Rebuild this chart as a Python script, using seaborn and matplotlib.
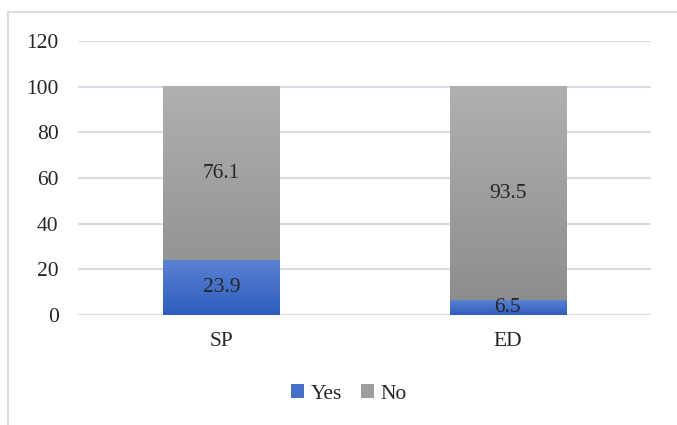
import numpy as np
import pandas as pd
import matplotlib
matplotlib.use('Agg')
import matplotlib.pyplot as plt
import seaborn as sns
from matplotlib.colors import LinearSegmentedColormap
from matplotlib.patches import Patch
from matplotlib.lines import Line2D

# data
groups = ['SP', 'ED']
yes_vals = [23.9, 6.5]
no_vals = [76.1, 93.5]
yticks = [0, 20, 40, 60, 80, 100, 120]

df = pd.DataFrame({'group': groups, 'Yes': yes_vals, 'No': no_vals})
df['total'] = df['Yes'] + df['No']

sns.set_style('white')
plt.rcParams['font.family'] = ['Liberation Serif', 'DejaVu Serif']

FS = 15.5
blue_top, blue_bot = '#5a82d3', '#2d5dbd'
gray_top, gray_bot = '#b0b0b0', '#8b8b8b'
grid_col = '#d9dde3'

fig = plt.figure(figsize=(6.77, 4.25), dpi=100)
ax = fig.add_axes([78 / 677, 1 - 315 / 425, (651 - 78) / 677, (315 - 41) / 425])

# stacked: total first (gray), then yes on top (blue)
sns.barplot(data=df, x='group', y='total', color=gray_bot, width=0.405, ax=ax)
sns.barplot(data=df, x='group', y='Yes', color=blue_bot, width=0.405, ax=ax)


def fill_gradient(patch, top, bottom, z):
    x0, y0 = patch.get_x(), patch.get_y()
    w, h = patch.get_width(), patch.get_height()
    cmap = LinearSegmentedColormap.from_list('g', [bottom, top])
    grad = np.linspace(0, 1, 256).reshape(-1, 1)
    ax.imshow(grad, cmap=cmap, aspect='auto', origin='lower',
              extent=[x0, x0 + w, y0, y0 + h], zorder=z, interpolation='bilinear')
    patch.set_visible(False)


for p in ax.containers[0]:
    fill_gradient(p, gray_top, gray_bot, 2)
for p in ax.containers[1]:
    fill_gradient(p, blue_top, blue_bot, 2.1)

# value labels
for i, (y, n) in enumerate(zip(yes_vals, no_vals)):
    ax.text(i, y / 2, f'{y}', ha='center', va='center', fontsize=FS, zorder=3)
    ax.text(i, y + n / 2, f'{n}', ha='center', va='center', fontsize=FS, zorder=3)

ax.set_xlim(-0.5, 1.5)
ax.set_ylim(0, 120)
ax.set_yticks(yticks)
ax.set_axisbelow(True)
ax.yaxis.grid(True, color=grid_col, linewidth=1.5)
ax.xaxis.grid(False)
for s in ax.spines.values():
    s.set_visible(False)
ax.tick_params(axis='y', length=0, pad=14, labelsize=FS)
ax.tick_params(axis='x', length=0, pad=12, labelsize=FS)
ax.set_xlabel('')
ax.set_ylabel('')

# legend
handles = [Patch(facecolor='#4470c8', edgecolor='none'),
           Patch(facecolor='#9e9e9e', edgecolor='none')]
fig.legend(handles, ['Yes', 'No'], loc='center', bbox_to_anchor=(349 / 677, 1 - 394 / 425),
           ncol=2, frameon=False, fontsize=FS, handlelength=0.6, handleheight=0.6,
           handletextpad=0.3, columnspacing=0.9)

# chart area border (top and left visible)
fig.add_artist(Line2D([8 / 677, 1], [1 - 12 / 425, 1 - 12 / 425], transform=fig.transFigure,
                      color=grid_col, linewidth=1.5))
fig.add_artist(Line2D([8 / 677, 8 / 677], [0, 1 - 12 / 425], transform=fig.transFigure,
                      color=grid_col, linewidth=1.5))

fig.savefig('out.png', dpi=100)
